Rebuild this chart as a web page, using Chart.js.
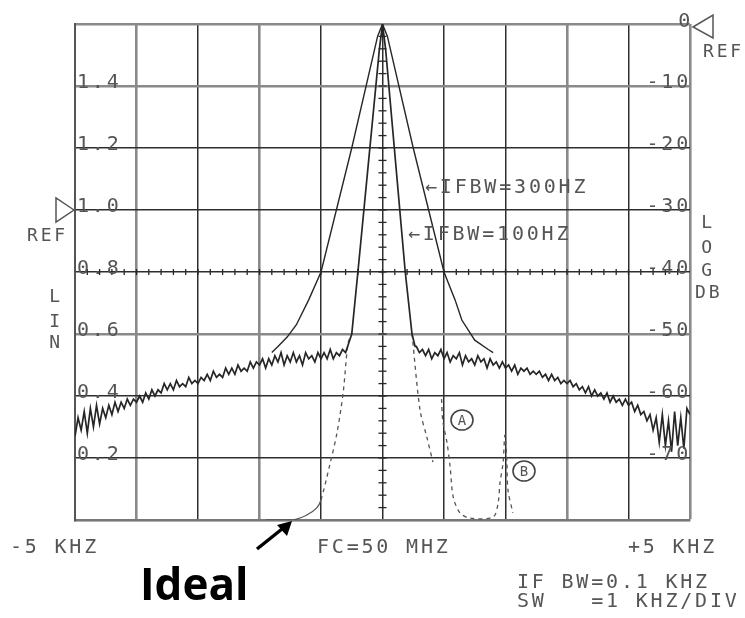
<!DOCTYPE html>
<html>
<head>
<meta charset="utf-8">
<script src="https://cdn.jsdelivr.net/npm/chart.js@4.4.1/dist/chart.umd.min.js"></script>
<style>
  html, body { margin: 0; padding: 0; background: #fff; }
  #wrap { width: 745px; height: 618px; position: relative; }
</style>
</head>
<body>
<div id="wrap"><canvas id="spectrum" width="745" height="618"></canvas></div>
<script>
// frequency offset from FC in kHz, amplitude in LIN units (0..1.6 full screen)
const noiseLeftKHz = [
  -5.00, -4.95, -4.90, -4.85, -4.80, -4.75, -4.70, -4.65, -4.60, -4.55,
  -4.50, -4.45, -4.40, -4.35, -4.30, -4.25, -4.20, -4.15, -4.10, -4.05,
  -4.00, -3.95, -3.90, -3.85, -3.80, -3.75, -3.70, -3.65, -3.60, -3.55,
  -3.50, -3.45, -3.40, -3.35, -3.30, -3.25, -3.20, -3.15, -3.10, -3.05,
  -3.00, -2.95, -2.90, -2.85, -2.80, -2.75, -2.70, -2.65, -2.60, -2.55,
  -2.50, -2.45, -2.40, -2.35, -2.30, -2.25, -2.20, -2.15, -2.10, -2.05,
  -2.00, -1.95, -1.90, -1.85, -1.80, -1.75, -1.70, -1.65, -1.60, -1.55,
  -1.50, -1.45, -1.40, -1.35, -1.30, -1.25, -1.20, -1.15, -1.10, -1.05,
  -1.00, -0.95, -0.90, -0.85, -0.80, -0.75, -0.70, -0.65, -0.60
];
const noiseLeftLin = [
  0.27, 0.33, 0.29, 0.35, 0.28, 0.36, 0.30, 0.37, 0.31, 0.36,
  0.33, 0.37, 0.34, 0.38, 0.35, 0.38, 0.36, 0.39, 0.37, 0.39,
  0.38, 0.40, 0.38, 0.41, 0.39, 0.42, 0.40, 0.42, 0.41, 0.44,
  0.42, 0.44, 0.42, 0.45, 0.43, 0.44, 0.43, 0.46, 0.44, 0.45,
  0.44, 0.46, 0.45, 0.47, 0.45, 0.48, 0.46, 0.47, 0.46, 0.49,
  0.47, 0.49, 0.47, 0.50, 0.48, 0.49, 0.48, 0.51, 0.49, 0.51,
  0.50, 0.52, 0.49, 0.52, 0.50, 0.53, 0.51, 0.54, 0.50, 0.53,
  0.51, 0.54, 0.51, 0.53, 0.50, 0.54, 0.52, 0.53, 0.51, 0.54,
  0.52, 0.54, 0.52, 0.55, 0.52, 0.54, 0.53, 0.55, 0.54
];
const peak100KHz = [-0.55, -0.50, -0.40, -0.05, 0.00, 0.05, 0.37, 0.48, 0.53];
const peak100Lin = [0.57, 0.60, 0.80, 1.52, 1.60, 1.52, 0.80, 0.60, 0.56];
const noiseRightKHz = [
  0.55, 0.60, 0.65, 0.70, 0.75, 0.80, 0.85, 0.90, 0.95, 1.00,
  1.05, 1.10, 1.15, 1.20, 1.25, 1.30, 1.35, 1.40, 1.45, 1.50,
  1.55, 1.60, 1.65, 1.70, 1.75, 1.80, 1.85, 1.90, 1.95, 2.00,
  2.05, 2.10, 2.15, 2.20, 2.25, 2.30, 2.35, 2.40, 2.45, 2.50,
  2.55, 2.60, 2.65, 2.70, 2.75, 2.80, 2.85, 2.90, 2.95, 3.00,
  3.05, 3.10, 3.15, 3.20, 3.25, 3.30, 3.35, 3.40, 3.45, 3.50,
  3.55, 3.60, 3.65, 3.70, 3.75, 3.80, 3.85, 3.90, 3.95, 4.00,
  4.05, 4.10, 4.15, 4.20, 4.25, 4.30, 4.35, 4.40, 4.45, 4.50,
  4.55, 4.60, 4.65, 4.70, 4.75, 4.80, 4.85, 4.90, 4.95, 5.00
];
const noiseRightLin = [
  0.56, 0.54, 0.55, 0.53, 0.55, 0.52, 0.54, 0.53, 0.55, 0.52,
  0.54, 0.51, 0.53, 0.52, 0.54, 0.50, 0.53, 0.51, 0.52, 0.50,
  0.53, 0.51, 0.52, 0.49, 0.52, 0.50, 0.51, 0.49, 0.51, 0.49,
  0.50, 0.48, 0.50, 0.47, 0.49, 0.48, 0.49, 0.47, 0.48, 0.47,
  0.48, 0.46, 0.47, 0.45, 0.47, 0.45, 0.46, 0.44, 0.45, 0.44,
  0.45, 0.43, 0.44, 0.42, 0.43, 0.41, 0.43, 0.40, 0.42, 0.40,
  0.41, 0.39, 0.41, 0.38, 0.40, 0.38, 0.39, 0.37, 0.39, 0.37,
  0.38, 0.35, 0.37, 0.34, 0.35, 0.32, 0.34, 0.29, 0.33, 0.25,
  0.34, 0.24, 0.32, 0.22, 0.35, 0.24, 0.33, 0.23, 0.36, 0.34
];
const trace300KHz = [-1.80, -1.70, -1.55, -1.40, -1.20, -1.00, -0.50, -0.08, 0.00, 0.08, 0.50, 1.00, 1.18, 1.29, 1.50, 1.72, 1.80];
const trace300Lin = [0.54, 0.56, 0.59, 0.63, 0.71, 0.80, 1.20, 1.56, 1.60, 1.56, 1.20, 0.80, 0.71, 0.645, 0.58, 0.55, 0.54];
const idealKHz = [-1.90, -1.46, -1.23, -1.07, -1.00, -0.85, -0.74, -0.64, -0.56, -0.50, null,
  0.48, 0.61, 0.72, 0.82, null,
  0.96, 0.98, 1.05, 1.10, 1.15, 1.26, 1.42, 1.80, 1.88, 1.91, 1.96, 1.99, 2.02, 2.04, 2.12];
const idealLin = [0.00, 0.00, 0.016, 0.039, 0.065, 0.184, 0.281, 0.41, 0.57, 0.60, null,
  0.60, 0.355, 0.268, 0.187, null,
  0.39, 0.32, 0.248, 0.171, 0.074, 0.023, 0.006, 0.01, 0.055, 0.119, 0.184, 0.274, 0.20, 0.097, 0.023];

const linLabels = ['1.4', '1.2', '1.0', '0.8', '0.6', '0.4', '0.2'];
const linValues = [1.4, 1.2, 1.0, 0.8, 0.6, 0.4, 0.2];
const dbLabels = ['0', '-10', '-20', '-30', '-40', '-50', '-60', '-70'];
const dbValues = [0, -10, -20, -30, -40, -50, -60, -70];

// grid lines that came out grey and heavier on the plotter
const greyXLines = [-4, -2, 3, 5];
const greyYLines = [1.6, 1.4, 0.6, 0.0];

function pts(xs, ys) {
  return xs.map((x, i) => (x === null ? { x: NaN, y: null } : { x: x, y: ys[i] }));
}

const trace100 = pts(noiseLeftKHz, noiseLeftLin)
  .concat(pts(peak100KHz, peak100Lin))
  .concat(pts(noiseRightKHz, noiseRightLin));

const INK = '#262626';
const TXT = '#555';
const MONO = '"DejaVu Sans Mono", "Liberation Mono", monospace';

function isGrey(list, v) {
  return list.some(g => Math.abs(g - v) < 1e-6);
}

const overlay = {
  id: 'overlay',
  afterDraw(chart) {
    const ctx = chart.ctx;
    const xs = chart.scales.x, ys = chart.scales.y, db = chart.scales.y2;
    ctx.save();

    // ruler ticks on centre line and on the 0.8 line
    ctx.strokeStyle = INK;
    ctx.lineWidth = 1.3;
    const cx = xs.getPixelForValue(0);
    for (let v = 0.04; v < 1.6; v += 0.04) {
      const py = ys.getPixelForValue(v);
      ctx.beginPath(); ctx.moveTo(cx - 4, py); ctx.lineTo(cx + 4, py); ctx.stroke();
    }
    const my = ys.getPixelForValue(0.8);
    for (let k = -4.8; k < 5; k += 0.2) {
      const px = xs.getPixelForValue(k);
      ctx.beginPath(); ctx.moveTo(px, my - 3); ctx.lineTo(px, my + 3); ctx.stroke();
    }

    ctx.fillStyle = TXT;
    ctx.font = '20px ' + MONO;
    if ('letterSpacing' in ctx) ctx.letterSpacing = '2.8px';
    ctx.textBaseline = 'alphabetic';

    // LIN labels inside left edge
    ctx.textAlign = 'left';
    linLabels.forEach((t, i) => {
      ctx.fillText(t, xs.left + 2, ys.getPixelForValue(linValues[i]) + 2);
    });
    // LOG dB labels inside right edge
    ctx.textAlign = 'right';
    dbLabels.forEach((t, i) => {
      const py = db.getPixelForValue(dbValues[i]);
      ctx.fillText(t, xs.right + (i === 0 ? 3 : 1), py + (i === 0 ? 3 : 2));
    });

    // REF markers
    ctx.strokeStyle = TXT;
    ctx.lineWidth = 1.5;
    const ry = ys.getPixelForValue(1.0);
    ctx.beginPath();
    ctx.moveTo(xs.left - 1, ry); ctx.lineTo(xs.left - 19, ry - 12); ctx.lineTo(xs.left - 19, ry + 12); ctx.closePath();
    ctx.stroke();
    const ty = ys.getPixelForValue(1.6) + 3;
    ctx.beginPath();
    ctx.moveTo(xs.right + 3, ty); ctx.lineTo(xs.right + 23, ty - 12); ctx.lineTo(xs.right + 23, ty + 11); ctx.closePath();
    ctx.stroke();

    ctx.font = '18px ' + MONO;
    ctx.textAlign = 'left';
    ctx.fillText('REF', 27, ry + 31);
    ctx.fillText('REF', 703, 57);

    // side axis names
    ctx.textAlign = 'center';
    ctx.fillText('L', 56, 302);
    ctx.fillText('I', 56, 327);
    ctx.fillText('N', 56, 348);
    ctx.fillText('L', 708, 228);
    ctx.fillText('O', 708, 253);
    ctx.fillText('G', 708, 276);
    ctx.textAlign = 'left';
    ctx.fillText('DB', 695, 298);

    // trace annotations
    ctx.font = '20px ' + MONO;
    ctx.fillText('\u2190IFBW=300HZ', 425, 193);
    ctx.fillText('\u2190IFBW=100HZ', 408, 240);

    // circled lobe marks
    ctx.lineWidth = 1.6;
    ctx.strokeStyle = '#444';
    ctx.font = '14px ' + MONO;
    if ('letterSpacing' in ctx) ctx.letterSpacing = '0px';
    ctx.textAlign = 'center';
    [['A', 462, 420], ['B', 524, 471]].forEach(([t, x, y]) => {
      ctx.beginPath(); ctx.ellipse(x, y, 11, 10, 0, 0, Math.PI * 2); ctx.stroke();
      ctx.fillText(t, x, y + 5);
    });

    // bottom legend
    ctx.font = '20px ' + MONO;
    if ('letterSpacing' in ctx) ctx.letterSpacing = '2.8px';
    ctx.textAlign = 'left';
    ctx.fillText('-5 KHZ', 10, 553);
    ctx.fillText('FC=50 MHZ', 317, 553);
    ctx.fillText('+5 KHZ', 628, 553);
    ctx.fillText('IF BW=0.1 KHZ', 517, 588);
    ctx.fillText('SW   =1 KHZ/DIV', 517, 607);

    // Ideal label and arrow
    if ('letterSpacing' in ctx) ctx.letterSpacing = '0px';
    ctx.fillStyle = '#000';
    ctx.font = 'bold 44px "Open Sans", "Noto Sans", sans-serif';
    ctx.fillText('Ideal', 140, 600);
    ctx.strokeStyle = '#000';
    ctx.lineWidth = 3.5;
    ctx.beginPath(); ctx.moveTo(257, 549); ctx.lineTo(282, 529); ctx.stroke();
    ctx.beginPath();
    ctx.moveTo(292, 521); ctx.lineTo(277, 525); ctx.lineTo(287, 536); ctx.closePath();
    ctx.fill();

    ctx.restore();
  }
};

new Chart(document.getElementById('spectrum'), {
  type: 'line',
  data: {
    datasets: [
      {
        label: 'IFBW=100HZ',
        data: trace100,
        borderColor: INK,
        borderWidth: 1.7,
        pointRadius: 0,
        tension: 0
      },
      {
        label: 'IFBW=300HZ',
        data: pts(trace300KHz, trace300Lin),
        borderColor: INK,
        borderWidth: 1.4,
        pointRadius: 0,
        tension: 0
      },
      {
        label: 'Ideal',
        data: pts(idealKHz, idealLin),
        borderColor: '#555',
        borderWidth: 1.3,
        pointRadius: 0,
        tension: 0.3,
        spanGaps: false,
        segment: {
          borderDash: c => (c.p0.parsed.x < -1.0 ? [] : [4, 4])
        }
      }
    ]
  },
  options: {
    responsive: false,
    animation: false,
    devicePixelRatio: 1,
    layout: { padding: { left: 75, top: 24, right: 55, bottom: 98 } },
    plugins: { legend: { display: false }, tooltip: { enabled: false } },
    scales: {
      x: {
        type: 'linear',
        min: -5,
        max: 5,
        ticks: { display: false, stepSize: 1 },
        grid: {
          drawTicks: false,
          color: c => (isGrey(greyXLines, c.tick.value) ? '#8a8a8a' : '#2e2e2e'),
          lineWidth: c => (isGrey(greyXLines, c.tick.value) ? 2.6 : 1.5)
        },
        border: { color: '#777', width: 2.2 }
      },
      y: {
        min: 0,
        max: 1.6,
        ticks: { display: false, stepSize: 0.2 },
        grid: {
          drawTicks: false,
          color: c => (isGrey(greyYLines, c.tick.value) ? '#8a8a8a' : '#2e2e2e'),
          lineWidth: c => (isGrey(greyYLines, c.tick.value) ? 2.6 : 1.5)
        },
        border: { color: '#555', width: 2 }
      },
      y2: {
        position: 'right',
        min: -80,
        max: 0,
        ticks: { display: false, stepSize: 10 },
        grid: { display: false, drawTicks: false },
        border: { display: false }
      }
    }
  },
  plugins: [overlay]
});
</script>
</body>
</html>
